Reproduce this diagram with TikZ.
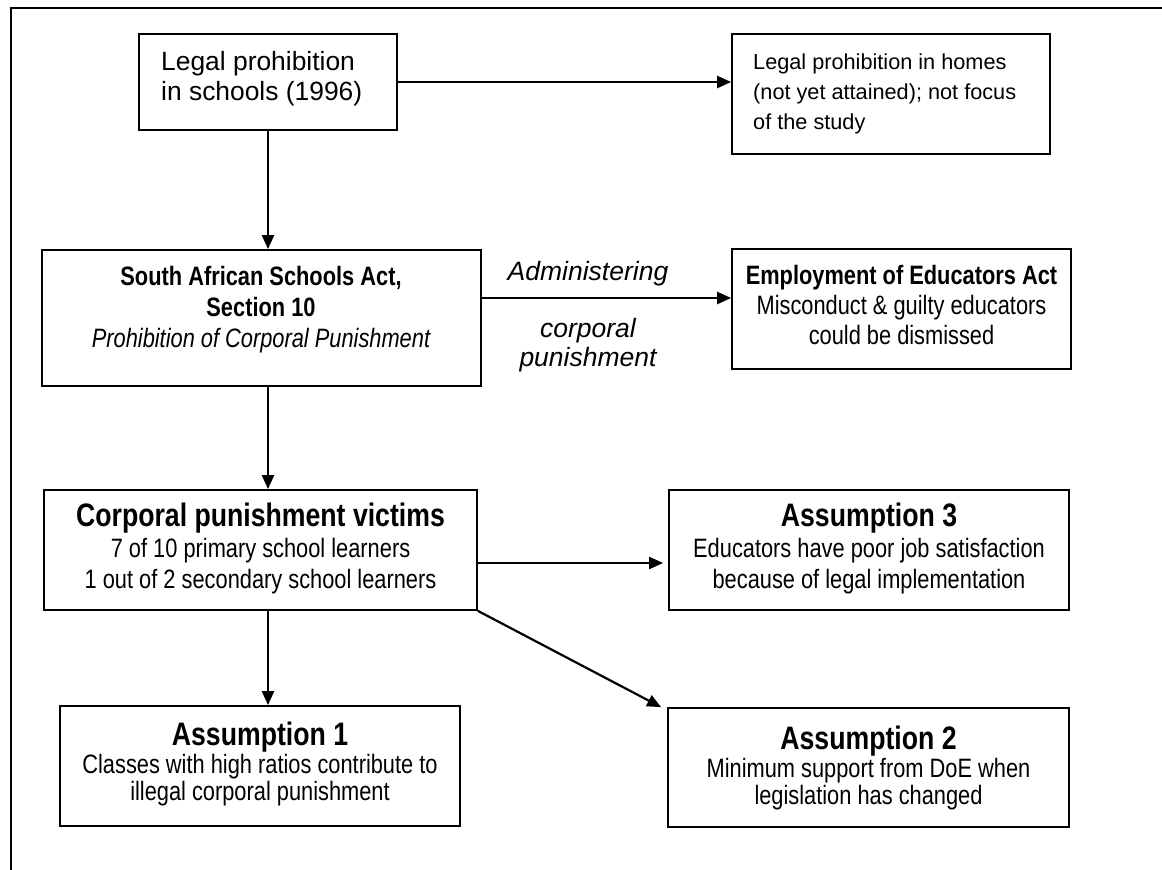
\documentclass[tikz,border=0pt]{standalone}
\usepackage{fontspec}
\setmainfont{Liberation Sans}
\newfontfamily\narrowfont{Liberation Sans}[FakeStretch=0.82]
\usetikzlibrary{arrows.meta}
% type sizes (1pt = 1 unit of the picture)
\newcommand\fsTop{\fontsize{26.4}{30}\selectfont}
\newcommand\fsNote{\fontsize{21.7}{30}\selectfont}
\newcommand\fsLab{\fontsize{26.5}{30}\selectfont}
\newcommand\fsBody{\narrowfont\fontsize{26.6}{31}\selectfont}
\newcommand\fsHead{\narrowfont\fontsize{32.5}{36}\selectfont\bfseries}
\tikzset{
  box/.style={draw, rectangle, line width=1.7pt, inner sep=0pt},
  arr/.style={-{Triangle[length=14pt,width=12pt]}, line width=2.2pt},
  ln/.style={anchor=base, inner sep=0pt, font=\fsBody},
  lnl/.style={anchor=base west, inner sep=0pt},
  hd/.style={anchor=base, inner sep=0pt, font=\fsHead},
  lab/.style={anchor=base, inner sep=0pt, font=\fsLab\itshape},
}
\begin{document}
\begin{tikzpicture}[x=1pt, y=-1pt]
\useasboundingbox (0,0) rectangle (1162,870);
% page frame
\draw[line width=2.4pt] (1162,8) -- (11,8) -- (11,870);

% boxes
\node[box, minimum width=258pt, minimum height=96pt]  (b1) at (268,82) {};
\node[box, minimum width=318pt, minimum height=120pt] (b2) at (891,94) {};
\node[box, minimum width=439pt, minimum height=136pt] (b3) at (261.5,318) {};
\node[box, minimum width=339pt, minimum height=120pt] (b4) at (901.5,309) {};
\node[box, minimum width=433pt, minimum height=120pt] (b5) at (260.5,550) {};
\node[box, minimum width=400pt, minimum height=120pt] (b6) at (869,550) {};
\node[box, minimum width=400pt, minimum height=120pt] (b7) at (260,766) {};
\node[box, minimum width=401pt, minimum height=119pt] (b8) at (868.5,767.5) {};

% box texts
\node[lnl, font=\fsTop] (t1a) at (161,70) {Legal prohibition};
\node[lnl, font=\fsTop] (t1b) at (161,100) {in schools (1996)};

\node[lnl, font=\fsNote] (t2a) at (753,69) {Legal prohibition in homes};
\node[lnl, font=\fsNote] (t2b) at (753,99) {(not yet attained); not focus};
\node[lnl, font=\fsNote] (t2c) at (753,129) {of the study};

\node[ln, font=\fsBody\bfseries] (t3a) at (261,285) {South African Schools Act,};
\node[ln, font=\fsBody\bfseries] (t3b) at (261,316) {Section 10};
\node[ln, font=\fsBody\itshape] (t3c) at (261,347) {Prohibition of Corporal Punishment};

\node[ln, font=\fsBody\bfseries] (t4a) at (901.5,284) {Employment of Educators Act};
\node[ln] (t4b) at (901.5,314) {Misconduct \& guilty educators};
\node[ln] (t4c) at (901.5,344) {could be dismissed};

\node[hd] (t5a) at (260.5,526) {Corporal punishment victims};
\node[ln] (t5b) at (260.5,557) {7 of 10 primary school learners};
\node[ln] (t5c) at (260.5,588) {1 out of 2 secondary school learners};

\node[hd] (t6a) at (869,526) {Assumption 3};
\node[ln] (t6b) at (869,557) {Educators have poor job satisfaction};
\node[ln] (t6c) at (869,588) {because of legal implementation};

\node[hd] (t7a) at (260,745) {Assumption 1};
\node[ln] (t7b) at (260,773) {Classes with high ratios contribute to};
\node[ln] (t7c) at (260,800) {illegal corporal punishment};

\node[hd] (t8a) at (868.5,749) {Assumption 2};
\node[ln] (t8b) at (868.5,777) {Minimum support from DoE when};
\node[ln] (t8c) at (868.5,804) {legislation has changed};

% label on the arrow between the Acts
\node[lab] (la) at (588,280) {Administering};
\node[lab] (lb) at (588,337) {corporal};
\node[lab] (lc) at (588,366) {punishment};

% connectors
\draw[arr] (b1.east) -- (b1.east -| b2.west);
\draw[arr] (b1.south) -- (b1.south |- b3.north);
\draw[arr] ([yshift=20pt]b3.east) -- ([yshift=20pt]b3.east -| b4.west);
\draw[arr] (b1.south |- b3.south) -- (b1.south |- b5.north);
\draw[arr] ([yshift=-13pt]b5.east) -- ([yshift=-13pt,xshift=-5pt]b5.east -| b6.west);
\draw[arr] (b1.south |- b5.south) -- (b1.south |- b7.north);
\draw[arr] (b5.south east) -- ([xshift=-6pt]b8.north west);
\end{tikzpicture}
\end{document}
